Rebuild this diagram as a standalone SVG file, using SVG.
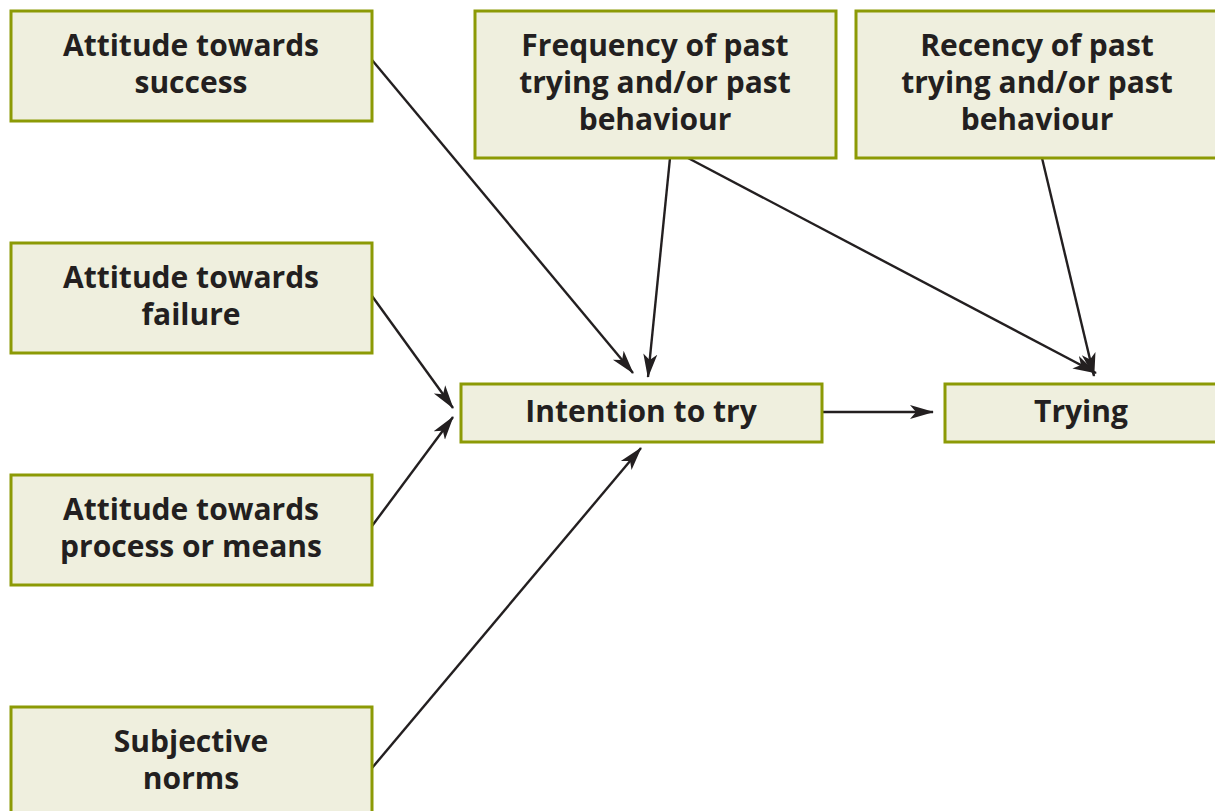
<svg xmlns="http://www.w3.org/2000/svg" width="1215" height="811" viewBox="0 0 1215 811">
  <style>
    .box rect { fill: #EFEFDE; stroke: #8C9A05; stroke-width: 3; }
    .box text { font-family: "Open Sans", "Noto Sans", sans-serif; font-weight: bold; font-size: 30px; fill: #231F20; text-anchor: middle; }
    #connectors line { stroke: #231F20; stroke-width: 2.4; marker-end: url(#arrow); }
  </style>
  <defs>
    <marker id="arrow" viewBox="0 0 24 16" refX="23" refY="8" markerWidth="24" markerHeight="16" markerUnits="userSpaceOnUse" orient="auto">
      <path d="M0,1 L24,8 L0,15 L6,8 z" fill="#231F20"/>
    </marker>
  </defs>
  <rect width="1215" height="811" fill="#FFFFFF"/>

  <g id="connectors">
    <line x1="372" y1="60" x2="633" y2="373"/>
    <line x1="372" y1="296" x2="453" y2="408"/>
    <line x1="372" y1="526" x2="453" y2="417"/>
    <line x1="372" y1="768" x2="641" y2="448"/>
    <line x1="670" y1="158" x2="648" y2="377"/>
    <line x1="688" y1="158" x2="1096" y2="373"/>
    <line x1="1042" y1="158" x2="1094" y2="376"/>
    <line x1="822" y1="412" x2="933" y2="412"/>
  </g>

  <g id="attitude-success" class="box">
    <rect x="11" y="11" width="361" height="110"/>
    <text x="191" y="56">Attitude towards</text>
    <text x="191" y="93">success</text>
  </g>
  <g id="attitude-failure" class="box">
    <rect x="11" y="243" width="361" height="110"/>
    <text x="191" y="288">Attitude towards</text>
    <text x="191" y="325">failure</text>
  </g>
  <g id="attitude-process" class="box">
    <rect x="11" y="475" width="361" height="110"/>
    <text x="191" y="520">Attitude towards</text>
    <text x="191" y="557">process or means</text>
  </g>
  <g id="subjective-norms" class="box">
    <rect x="11" y="707" width="361" height="110"/>
    <text x="191" y="752">Subjective</text>
    <text x="191" y="789">norms</text>
  </g>
  <g id="frequency" class="box">
    <rect x="475" y="11" width="361" height="147"/>
    <text x="655" y="56">Frequency of past</text>
    <text x="655" y="93">trying and/or past</text>
    <text x="655" y="130">behaviour</text>
  </g>
  <g id="recency" class="box">
    <rect x="856" y="11" width="370" height="147"/>
    <text x="1037" y="56">Recency of past</text>
    <text x="1037" y="93">trying and/or past</text>
    <text x="1037" y="130">behaviour</text>
  </g>
  <g id="intention" class="box">
    <rect x="461" y="384" width="361" height="58"/>
    <text x="641" y="422">Intention to try</text>
  </g>
  <g id="trying" class="box">
    <rect x="945" y="384" width="290" height="58"/>
    <text x="1081" y="422">Trying</text>
  </g>
</svg>
